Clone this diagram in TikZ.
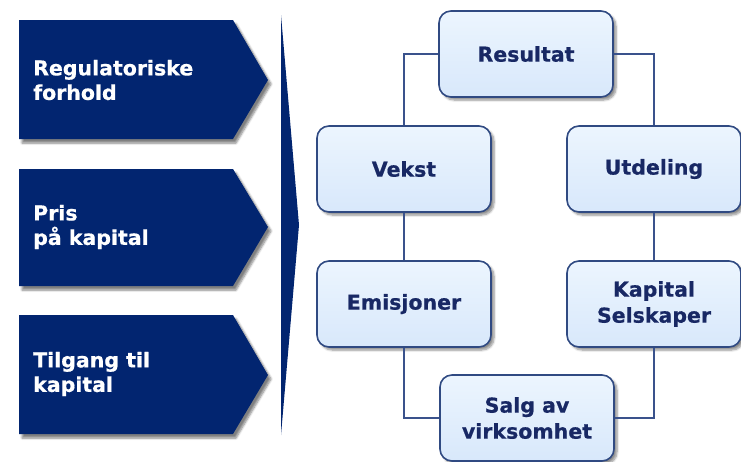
\documentclass[tikz,border=0pt]{standalone}
\usepackage{fontspec}
\setmainfont{DejaVu Sans}
\newfontfamily\heavyfont{DejaVu Sans Bold}[FakeBold=0.6]
\usetikzlibrary{shadows.blur}

\definecolor{navy}{RGB}{2,37,112}
\definecolor{boxline}{RGB}{48,74,130}
\definecolor{boxtext}{RGB}{24,40,100}
\definecolor{boxtop}{RGB}{236,245,254}
\definecolor{boxbot}{RGB}{216,232,251}
\definecolor{linkcol}{RGB}{58,82,140}

\tikzset{
  stepbox/.style={draw=boxline, line width=1.6pt, rounded corners=12pt,
    top color=boxtop, bottom color=boxbot,
    minimum width=174pt, minimum height=86pt, align=center,
    text=boxtext, font=\heavyfont\fontsize{20.5}{26}\selectfont,
    blur shadow={shadow xshift=3pt, shadow yshift=-3pt, shadow blur steps=6, shadow opacity=45}},
  factor/.style={fill=navy,
    blur shadow={shadow xshift=3pt, shadow yshift=-4pt, shadow blur steps=6, shadow opacity=50}},
  factortext/.style={anchor=west, align=left, text=white,
    font=\heavyfont\fontsize{20.5}{24.5}\selectfont, inner sep=0pt},
  link/.style={draw=linkcol, line width=1.3pt}
}

\begin{document}
\begin{tikzpicture}[x=1pt, y=-1pt]
\useasboundingbox (0,0) rectangle (741,461);

% three arrow-shaped factor panels
\path[factor] (19,20) -- (233,20) -- (268,80) -- (233,139) -- (19,139) -- cycle;
\path[factor] (19,169) -- (233,169) -- (268,227) -- (233,286) -- (19,286) -- cycle;
\path[factor] (19,315) -- (233,315) -- (268,375) -- (233,434) -- (19,434) -- cycle;

\node[factortext] (reg) at (33,80) {Regulatoriske\\forhold};
\node[factortext] (pris) at (33,227) {Pris\\på kapital};
\node[factortext] (tilg) at (33,374) {Tilgang til\\kapital};

% tall wedge between the factors and the cycle
\fill[navy] (281,15) -- (299,225) -- (281,435) -- cycle;

% cycle of capital boxes
\node[stepbox] (res)  at (526,54)  {Resultat};
\node[stepbox] (vek)  at (404,169) {Vekst};
\node[stepbox] (utd)  at (654,169) {Utdeling};
\node[stepbox] (emi)  at (404,304) {Emisjoner};
\node[stepbox] (kap)  at (654,304) {Kapital\\Selskaper};
\node[stepbox] (salg) at (527,418) {Salg av\\virksomhet};

% connectors
\draw[link] (res.west) -| (vek.north);
\draw[link] (res.east) -| (utd.north);
\draw[link] (vek.south) -- (emi.north);
\draw[link] (utd.south) -- (kap.north);
\draw[link] (emi.south) |- (salg.west);
\draw[link] (kap.south) |- (salg.east);
\end{tikzpicture}
\end{document}
